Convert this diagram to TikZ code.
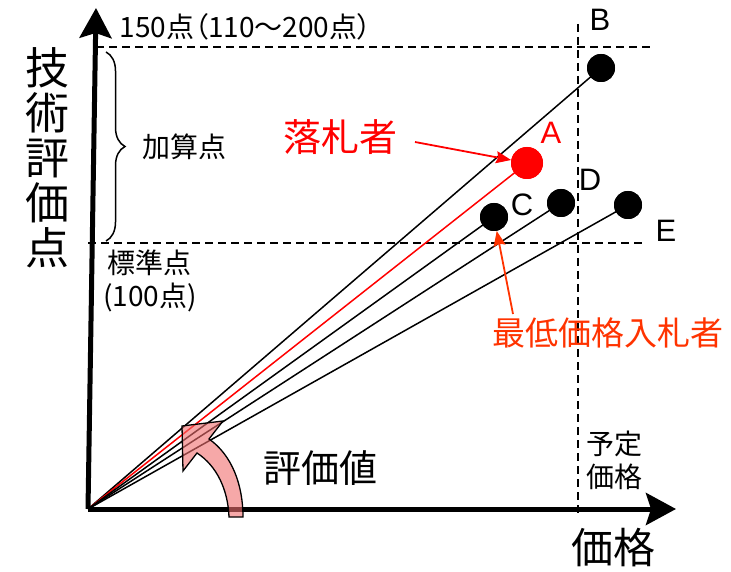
\documentclass[tikz,border=0pt]{standalone}
\usepackage{fontspec}
\setmainfont{Noto Sans CJK JP}
\newfontfamily\lat{Liberation Sans}
\newfontfamily\jpp{Noto Sans CJK JP}[CharacterWidth=AlternateProportional]
\usetikzlibrary{arrows.meta,decorations.pathreplacing}
\definecolor{lowred}{RGB}{255,51,0}
\definecolor{pinkf}{RGB}{240,110,110}
\tikzset{
  axis/.style={line width=5pt,-{Stealth[length=30pt,width=32pt,inset=5pt]}},
  guide/.style={dashed,line width=1.6pt,dash pattern=on 8pt off 5pt},
  ray/.style={line width=1.5pt},
  dot/.style={circle,fill=black,inner sep=0pt,minimum size=28pt},
  small/.style={font=\fontsize{28}{33}\selectfont},
  letter/.style={font=\lat\fontsize{31}{33}\selectfont},
  callout/.style={line width=1.8pt,-{Stealth[length=15pt,width=12pt,inset=2pt]}},
}
\begin{document}
\begin{tikzpicture}[x=1pt,y=-1pt]
\useasboundingbox (0,0) rectangle (731,572);
% coordinates
\coordinate (O) at (88,509);
\coordinate (ytip) at (96,8);
\coordinate (xtip) at (676,509);
\coordinate (t1) at (96,47);
\coordinate (t2) at (650,47);
\coordinate (b1) at (88,243);
\coordinate (b2) at (643,243);
\coordinate (v1) at (578,24);
\coordinate (v2) at (578,516);
% guides
\draw[guide] (t1) -- (t2);
\draw[guide] (b1) -- (b2);
\draw[guide] (v1) -- (v2);
% dots
\node[dot] (B) at (601,68) {};
\node[dot,fill=red,minimum size=32pt] (A) at (527,163) {};
\node[dot] (C) at (494,217) {};
\node[dot] (D) at (561,203) {};
\node[dot] (E) at (628,205) {};
% rays
\draw[ray] (O) -- (B.center);
\draw[ray,red] (O) -- (A.center);
\draw[ray] (O) -- (C.center);
\draw[ray] (O) -- (D.center);
\draw[ray] (O) -- (E.center);
\node[dot] at (B) {};
\node[dot,fill=red,minimum size=32pt] at (A) {};
\node[dot] at (C) {};
\node[dot] at (D) {};
\node[dot] at (E) {};
% letters
\node[letter] (lB) at (600,20) {B};
\node[letter,red] (lA) at (551,133) {A};
\node[letter] (lC) at (522,205) {C};
\node[letter] (lD) at (590,180) {D};
\node[letter] (lE) at (666,231) {E};
% axes
\draw[axis] (O) -- (ytip);
\draw[axis] (O) -- (xtip);
% brace
\draw[decorate,decoration={brace,amplitude=19pt},line width=1.5pt] (106,52) -- (106,241);
% texts
\node[small,anchor=west] (top) at (116,27) {\jpp 150点（110～200点）};
\node[small] (kasan) at (184,147) {加算点};
\node[small] (hyoujun) at (149,263) {標準点};
\node[small] (hyoujun2) at (150,297) {(100点)};
\node[small,align=center] (yotei) at (614,460) {予定\\価格};
\node[font=\fontsize{44}{45}\selectfont,align=center] (ylab) at (47,158) {技\\術\\評\\価\\点};
\node[font=\fontsize{42}{44}\selectfont] (xlab) at (613,548) {価格};
\node[font=\fontsize{38}{40}\selectfont] (hyoka) at (320,468) {評価値};
\node[font=\fontsize{38}{40}\selectfont,red] (winner) at (340,137) {落札者};
\node[font=\fontsize{33}{36}\selectfont,lowred] (low) at (608,333) {最低価格入札者};
% callouts
\coordinate (w1) at (415,142);
\coordinate (m1) at (513,314);
\draw[callout,red] (w1) -- (A);
\draw[callout,lowred] (m1) -- (C);
% curved pink arrow
\filldraw[fill=pinkf,fill opacity=0.6,draw=black,line width=1.3pt,line join=miter]
  (229,517) .. controls (228,490) and (217,466) .. (197,453)
  -- (183,471) -- (182,426) -- (223,421) -- (209,439)
  .. controls (232,455) and (243,485) .. (243,517) -- cycle;
\end{tikzpicture}
\end{document}
